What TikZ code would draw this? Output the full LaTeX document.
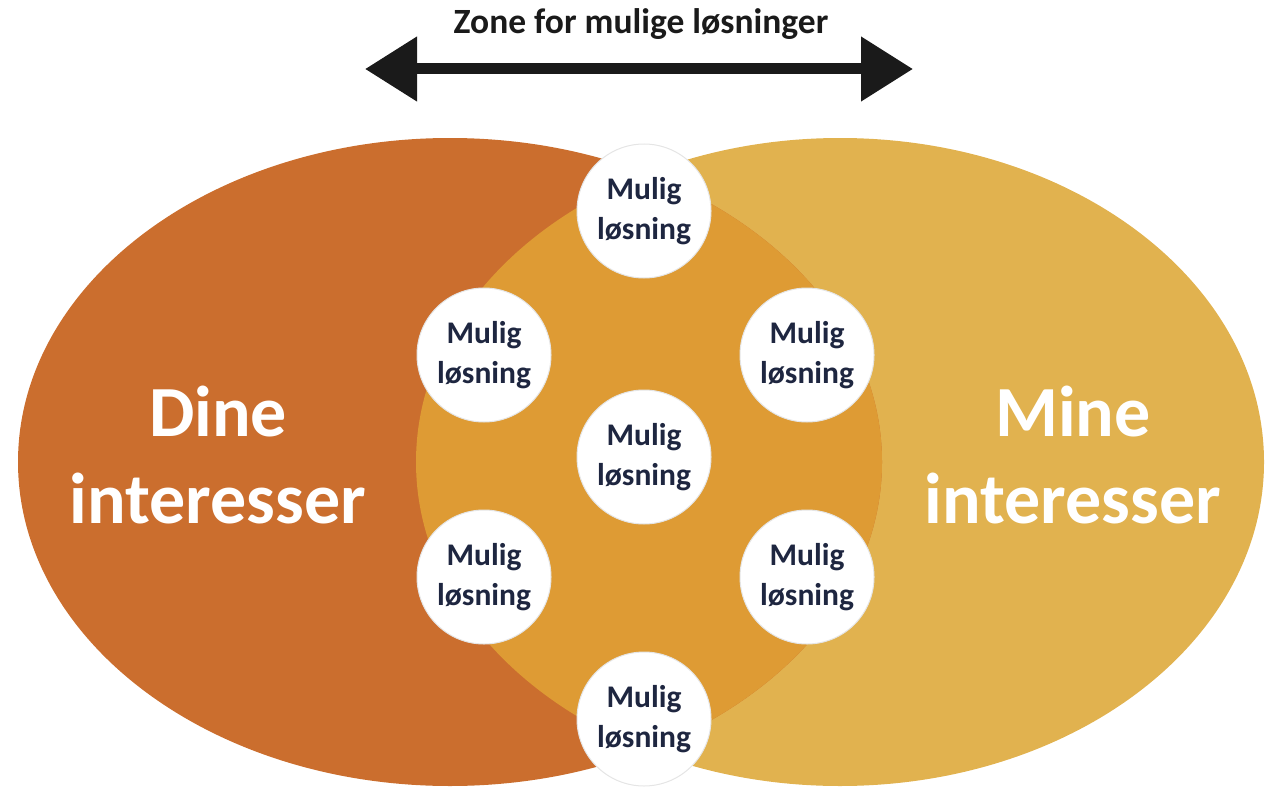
\documentclass[tikz,border=0pt]{standalone}
\usepackage{fontspec}
\setmainfont{Carlito}
\usetikzlibrary{arrows.meta}

\definecolor{dineC}{HTML}{CB6E2E}
\definecolor{mineC}{HTML}{E1B24F}
\definecolor{zoneC}{HTML}{DE9B34}
\definecolor{inkC}{HTML}{1E2640}
\definecolor{titleC}{HTML}{1A1A1A}

\tikzset{
  solution/.style={circle, fill=white, draw=black!10, line width=1pt,
    minimum size=134pt, inner sep=0pt, align=center,
    font=\fontsize{31.5}{40}\selectfont\bfseries, text=inkC},
  bigtext/.style={align=center, text=white,
    font=\fontsize{72}{87}\selectfont\bfseries},
  zonearrow/.style={line width=11pt, draw=titleC,
    {Triangle[length=52pt,width=62pt]}-{Triangle[length=52pt,width=62pt]}}
}

\begin{document}
\begin{tikzpicture}[x=1pt,y=-1pt]
  \useasboundingbox (0,0) rectangle (1268,789);

  % the two interest areas and their common zone
  \fill[mineC] (840,462) ellipse [x radius=424pt, y radius=324pt];
  \fill[dineC] (450,462) ellipse [x radius=432pt, y radius=324pt];
  \begin{scope}
    \clip (450,462) ellipse [x radius=432pt, y radius=324pt];
    \fill[zoneC] (840,462) ellipse [x radius=424pt, y radius=324pt];
  \end{scope}

  % labels of the two sides
  \node[bigtext] (dine) at (218,455) {Dine\\interesser};
  \node[bigtext] (mine) at (1073,455) {Mine\\interesser};

  % possible solutions
  \node[solution] (s1) at (644,211) {Mulig\\løsning};
  \node[solution] (s2) at (484,355) {Mulig\\løsning};
  \node[solution] (s3) at (807,355) {Mulig\\løsning};
  \node[solution] (s4) at (644,457) {Mulig\\løsning};
  \node[solution] (s5) at (484,577) {Mulig\\løsning};
  \node[solution] (s6) at (807,577) {Mulig\\løsning};
  \node[solution] (s7) at (644,719) {Mulig\\løsning};

  % zone of possible solutions
  \node[text=titleC, font=\fontsize{35.5}{40}\selectfont\bfseries] (zone) at (641,24) {Zone for mulige løsninger};
  \coordinate (zl) at (365,69);
  \coordinate (zr) at (913,69);
  \draw[zonearrow] (zl) -- (zr);
\end{tikzpicture}
\end{document}
